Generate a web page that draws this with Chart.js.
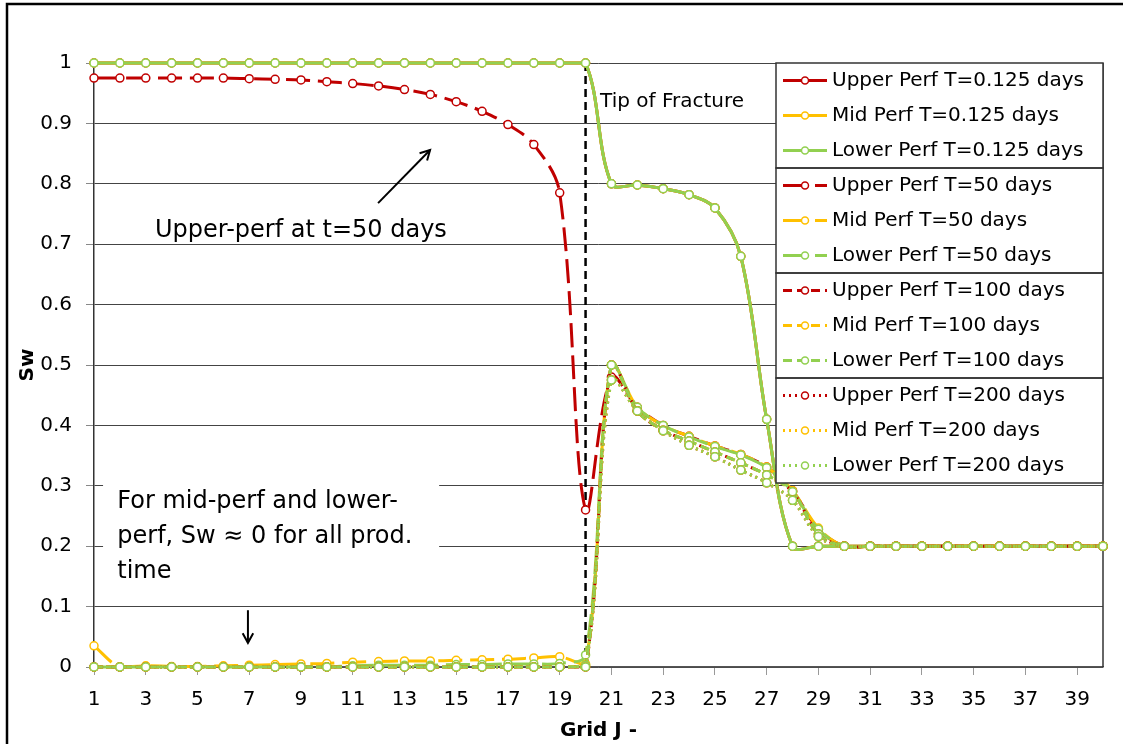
<!DOCTYPE html>
<html>
<head>
<meta charset="utf-8">
<script src="https://cdn.jsdelivr.net/npm/chart.js@4.4.1/dist/chart.umd.min.js"></script>
<style>
    html, body { margin: 0; padding: 0; background: #fff; }
    canvas { display: block; }
</style>
</head>
<body>
<canvas id="swChart" width="1123" height="744"></canvas>
<script>
// grid blocks along J and the labelled ticks
const gridJ = [1, 2, 3, 4, 5, 6, 7, 8, 9, 10, 11, 12, 13, 14, 15, 16, 17, 18, 19, 20,
    21, 22, 23, 24, 25, 26, 27, 28, 29, 30, 31, 32, 33, 34, 35, 36, 37, 38, 39, 40];
const xTickLabels = [1, 3, 5, 7, 9, 11, 13, 15, 17, 19, 21, 23, 25, 27, 29, 31, 33, 35, 37, 39];
const fractureTipJ = 20;

// Sw values
const upper0125 = [1, 1, 1, 1, 1, 1, 1, 1, 1, 1, 1, 1, 1, 1, 1, 1, 1, 1, 1, 1,
    0.8, 0.798, 0.792, 0.782, 0.76, 0.68, 0.41, 0.2, 0.2, 0.2, 0.2, 0.2, 0.2, 0.2, 0.2, 0.2, 0.2, 0.2, 0.2, 0.2];
const mid0125 = [1, 1, 1, 1, 1, 1, 1, 1, 1, 1, 1, 1, 1, 1, 1, 1, 1, 1, 1, 1,
    0.8, 0.798, 0.792, 0.782, 0.76, 0.68, 0.41, 0.2, 0.2, 0.2, 0.2, 0.2, 0.2, 0.2, 0.2, 0.2, 0.2, 0.2, 0.2, 0.2];
const lower0125 = [1, 1, 1, 1, 1, 1, 1, 1, 1, 1, 1, 1, 1, 1, 1, 1, 1, 1, 1, 1,
    0.8, 0.798, 0.792, 0.782, 0.76, 0.68, 0.41, 0.2, 0.2, 0.2, 0.2, 0.2, 0.2, 0.2, 0.2, 0.2, 0.2, 0.2, 0.2, 0.2];

const upper50 = [0.975, 0.975, 0.975, 0.975, 0.975, 0.975, 0.974, 0.973, 0.972, 0.969,
    0.966, 0.962, 0.956, 0.948, 0.936, 0.92, 0.898, 0.865, 0.785, 0.26,
    0.48, 0.43, 0.4, 0.382, 0.366, 0.352, 0.331, 0.292, 0.228, 0.2,
    0.2, 0.2, 0.2, 0.2, 0.2, 0.2, 0.2, 0.2, 0.2, 0.2];
const mid50 = [0.035, 0, 0.002, 0.001, 0.001, 0.002, 0.003, 0.004, 0.005, 0.006,
    0.008, 0.009, 0.01, 0.01, 0.011, 0.012, 0.013, 0.015, 0.017, 0.005,
    0.5, 0.43, 0.4, 0.382, 0.366, 0.352, 0.331, 0.292, 0.23, 0.2,
    0.2, 0.2, 0.2, 0.2, 0.2, 0.2, 0.2, 0.2, 0.2, 0.2];
const lower50 = [0, 0, 0, 0, 0, 0, 0, 0, 0, 0,
    0.002, 0.003, 0.003, 0.003, 0.004, 0.004, 0.005, 0.005, 0.006, 0.02,
    0.5, 0.43, 0.4, 0.381, 0.365, 0.351, 0.33, 0.29, 0.228, 0.2,
    0.2, 0.2, 0.2, 0.2, 0.2, 0.2, 0.2, 0.2, 0.2, 0.2];

const upper100 = [0, 0, 0, 0, 0, 0, 0, 0, 0, 0, 0, 0, 0, 0, 0, 0, 0, 0, 0, 0,
    0.5, 0.424, 0.392, 0.374, 0.356, 0.338, 0.318, 0.29, 0.22, 0.2,
    0.2, 0.2, 0.2, 0.2, 0.2, 0.2, 0.2, 0.2, 0.2, 0.2];
const mid100 = [0, 0, 0, 0, 0, 0, 0, 0, 0, 0, 0, 0, 0, 0, 0, 0, 0, 0, 0, 0.003,
    0.5, 0.424, 0.392, 0.374, 0.356, 0.338, 0.318, 0.29, 0.22, 0.2,
    0.2, 0.2, 0.2, 0.2, 0.2, 0.2, 0.2, 0.2, 0.2, 0.2];
const lower100 = [0, 0, 0, 0, 0, 0, 0, 0, 0, 0, 0, 0, 0, 0, 0, 0, 0, 0, 0, 0.003,
    0.5, 0.424, 0.392, 0.374, 0.356, 0.338, 0.318, 0.29, 0.22, 0.2,
    0.2, 0.2, 0.2, 0.2, 0.2, 0.2, 0.2, 0.2, 0.2, 0.2];

const upper200 = [0, 0, 0, 0, 0, 0, 0, 0, 0, 0, 0, 0, 0, 0, 0, 0, 0, 0, 0, 0,
    0.475, 0.424, 0.391, 0.367, 0.348, 0.326, 0.305, 0.276, 0.216, 0.2,
    0.2, 0.2, 0.2, 0.2, 0.2, 0.2, 0.2, 0.2, 0.2, 0.2];
const mid200 = [0, 0, 0, 0, 0, 0, 0, 0, 0, 0, 0, 0, 0, 0, 0, 0, 0, 0, 0, 0,
    0.475, 0.424, 0.391, 0.367, 0.348, 0.326, 0.305, 0.276, 0.216, 0.2,
    0.2, 0.2, 0.2, 0.2, 0.2, 0.2, 0.2, 0.2, 0.2, 0.2];
const lower200 = [0, 0, 0, 0, 0, 0, 0, 0, 0, 0, 0, 0, 0, 0, 0, 0, 0, 0, 0, 0,
    0.475, 0.424, 0.391, 0.367, 0.348, 0.326, 0.305, 0.276, 0.216, 0.2,
    0.2, 0.2, 0.2, 0.2, 0.2, 0.2, 0.2, 0.2, 0.2, 0.2];

const RED = "#C00000";
const YELLOW = "#FFC000";
const GREEN = "#92D050";
const FONT = "'DejaVu Sans', Verdana, sans-serif";

const dashSolid = [];
const dashLong = [24, 8];
const dashShort = [9, 5];
const dashDot = [2, 4];

const seriesList = [
    ["Upper Perf T=0.125 days", upper0125, RED, dashSolid],
    ["Mid Perf T=0.125 days", mid0125, YELLOW, dashSolid],
    ["Lower Perf T=0.125 days", lower0125, GREEN, dashSolid],
    ["Upper Perf T=50 days", upper50, RED, dashLong],
    ["Mid Perf T=50 days", mid50, YELLOW, dashLong],
    ["Lower Perf T=50 days", lower50, GREEN, dashLong],
    ["Upper Perf T=100 days", upper100, RED, dashShort],
    ["Mid Perf T=100 days", mid100, YELLOW, dashShort],
    ["Lower Perf T=100 days", lower100, GREEN, dashShort],
    ["Upper Perf T=200 days", upper200, RED, dashDot],
    ["Mid Perf T=200 days", mid200, YELLOW, dashDot],
    ["Lower Perf T=200 days", lower200, GREEN, dashDot],
];

// later series sit on top, like the spreadsheet draws them
const datasets = seriesList.map(([label, values, color, dash], i) => ({
    label: label,
    data: gridJ.map((j, k) => ({ x: j, y: values[k] })),
    borderColor: color,
    borderWidth: 3,
    borderDash: dash,
    tension: 0.35,
    pointRadius: 4,
    pointBorderWidth: 1.5,
    pointBorderColor: color,
    pointBackgroundColor: "#fff",
    fill: false,
    clip: false,
    order: seriesList.length - i,
}));

// annotation anchors in data units (J, Sw)
const notes = [
    { text: "Upper-perf at t=50 days", j: 3.36, sw: 0.723, size: 24 },
    { text: "Tip of Fracture", j: 20.56, sw: 0.935, size: 20 },
];
const noteBox = { j1: 1.35, j2: 14.34, sw1: 0.326, sw2: 0.125 };
const noteBoxLines = ["For mid-perf and lower-", "perf, Sw \u2248 0 for all prod.", "time"];
const noteBoxText = { j: 1.9, sw: 0.273, step: 0.0575, size: 24 };
const arrows = [
    { j1: 11.98, sw1: 0.768, j2: 13.99, sw2: 0.856 },
    { j1: 6.95, sw1: 0.094, j2: 6.95, sw2: 0.04 },
];

function drawArrow(ctx, x1, y1, x2, y2) {
    const ang = Math.atan2(y2 - y1, x2 - x1);
    ctx.beginPath();
    ctx.moveTo(x1, y1);
    ctx.lineTo(x2, y2);
    ctx.stroke();
    ctx.beginPath();
    ctx.moveTo(x2 - 11 * Math.cos(ang - 0.5), y2 - 11 * Math.sin(ang - 0.5));
    ctx.lineTo(x2, y2);
    ctx.lineTo(x2 - 11 * Math.cos(ang + 0.5), y2 - 11 * Math.sin(ang + 0.5));
    ctx.stroke();
}

const overlayPlugin = {
    id: "overlay",
    beforeDraw(chart) {
        const ctx = chart.ctx;
        ctx.save();
        ctx.fillStyle = "#fff";
        ctx.fillRect(0, 0, chart.width, chart.height);
        ctx.restore();
    },
    beforeDatasetsDraw(chart) {
        const { ctx, chartArea, scales: { x, y } } = chart;
        ctx.save();
        // white text box hiding the grid behind the note
        const bx1 = x.getPixelForValue(noteBox.j1);
        const bx2 = x.getPixelForValue(noteBox.j2);
        const by1 = y.getPixelForValue(noteBox.sw1);
        const by2 = y.getPixelForValue(noteBox.sw2);
        ctx.fillStyle = "#fff";
        ctx.fillRect(bx1, by1, bx2 - bx1, by2 - by1);

        // plot right border
        ctx.strokeStyle = "#333";
        ctx.lineWidth = 1.5;
        ctx.beginPath();
        ctx.moveTo(chartArea.right, chartArea.top);
        ctx.lineTo(chartArea.right, chartArea.bottom);
        ctx.stroke();

        // tip of fracture marker line
        const fx = x.getPixelForValue(fractureTipJ);
        ctx.strokeStyle = "#000";
        ctx.lineWidth = 2.5;
        ctx.setLineDash([8, 5]);
        ctx.beginPath();
        ctx.moveTo(fx, chartArea.top);
        ctx.lineTo(fx, chartArea.bottom);
        ctx.stroke();
        ctx.restore();
    },
    afterDatasetsDraw(chart) {
        const { ctx, chartArea, scales: { x, y } } = chart;
        ctx.save();
        ctx.fillStyle = "#000";
        ctx.textBaseline = "middle";
        ctx.textAlign = "left";
        notes.forEach((n) => {
            ctx.font = `${n.size}px ${FONT}`;
            ctx.fillText(n.text, x.getPixelForValue(n.j), y.getPixelForValue(n.sw));
        });
        ctx.font = `${noteBoxText.size}px ${FONT}`;
        noteBoxLines.forEach((line, i) => {
            ctx.fillText(line, x.getPixelForValue(noteBoxText.j),
                y.getPixelForValue(noteBoxText.sw - i * noteBoxText.step));
        });
        ctx.strokeStyle = "#000";
        ctx.lineWidth = 2;
        arrows.forEach((a) => {
            drawArrow(ctx, x.getPixelForValue(a.j1), y.getPixelForValue(a.sw1),
                x.getPixelForValue(a.j2), y.getPixelForValue(a.sw2));
        });

        // legend, four boxed groups of three
        const left = 776;
        const right = chartArea.right;
        const top = chartArea.top;
        const rowH = 35;
        const sets = chart.data.datasets;
        ctx.fillStyle = "#fff";
        ctx.fillRect(left, top, right - left, rowH * sets.length);
        ctx.strokeStyle = "#333";
        ctx.lineWidth = 1.5;
        for (let g = 0; g < sets.length / 3; g++) {
            ctx.strokeRect(left, top + g * rowH * 3, right - left, rowH * 3);
        }
        ctx.font = `20px ${FONT}`;
        sets.forEach((ds, i) => {
            const cy = top + 17.5 + i * rowH;
            ctx.strokeStyle = ds.borderColor;
            ctx.lineWidth = 3;
            ctx.setLineDash(ds.borderDash);
            ctx.beginPath();
            ctx.moveTo(left + 7, cy);
            ctx.lineTo(left + 51, cy);
            ctx.stroke();
            ctx.setLineDash([]);
            ctx.beginPath();
            ctx.arc(left + 29, cy, 3.5, 0, Math.PI * 2);
            ctx.fillStyle = "#fff";
            ctx.fill();
            ctx.lineWidth = 1.5;
            ctx.stroke();
            ctx.fillStyle = "#000";
            ctx.fillText(ds.label, left + 56, cy);
        });

        // outer chart border
        ctx.strokeStyle = "#000";
        ctx.lineWidth = 2.5;
        ctx.strokeRect(7, 4, chart.width + 20, chart.height + 20);
        ctx.restore();
    },
};

const ctx = document.getElementById("swChart").getContext("2d");
new Chart(ctx, {
    type: "line",
    data: { datasets: datasets },
    options: {
        responsive: false,
        animation: false,
        devicePixelRatio: 1,
        layout: { padding: { top: 63, right: 20, left: 0, bottom: 0 } },
        plugins: { legend: { display: false }, tooltip: { enabled: false } },
        scales: {
            x: {
                type: "linear",
                min: 1,
                max: 40,
                afterBuildTicks: (scale) => {
                    scale.ticks = xTickLabels.map((v) => ({ value: v }));
                },
                afterFit: (scale) => {
                    scale.height = 77;
                },
                grid: { drawOnChartArea: false, tickLength: 8, tickColor: "#999" },
                border: { color: "#555", width: 1.5 },
                ticks: {
                    autoSkip: false,
                    maxRotation: 0,
                    padding: 13,
                    color: "#000",
                    font: { family: FONT, size: 20 },
                },
                title: {
                    display: true,
                    text: "Grid J -",
                    color: "#000",
                    font: { family: FONT, size: 20, weight: "bold", lineHeight: 1.2 },
                    padding: { top: 0, bottom: 1 },
                },
            },
            y: {
                min: 0,
                max: 1,
                afterFit: (scale) => {
                    scale.width = 94;
                },
                grid: { color: "#444", lineWidth: 1, tickLength: 8, tickColor: "#888" },
                border: { color: "#333", width: 1.5 },
                ticks: {
                    stepSize: 0.1,
                    padding: 14,
                    color: "#000",
                    font: { family: FONT, size: 20 },
                    callback: (v) => String(+v.toFixed(2)),
                },
                title: {
                    display: true,
                    text: "Sw",
                    color: "#000",
                    font: { family: FONT, size: 20, weight: "bold", lineHeight: 1.2 },
                    padding: { top: 16, bottom: 0 },
                },
            },
        },
    },
    plugins: [overlayPlugin],
});
</script>
</body>
</html>
